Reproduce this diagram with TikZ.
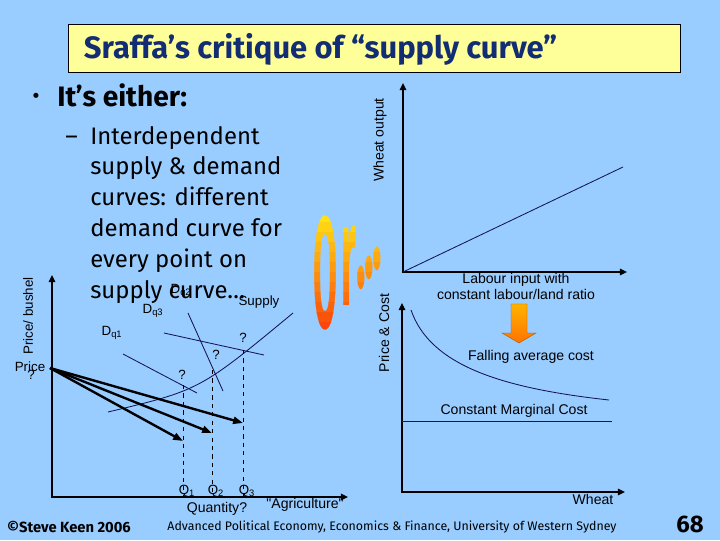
\documentclass[tikz,border=0pt]{standalone}
\usepackage{fontspec}
\setmainfont{Fira Sans}
\newfontfamily\arialfont{Liberation Sans}
\usetikzlibrary{arrows.meta, positioning, calc}
\definecolor{slidebg}{RGB}{153,204,255}
\definecolor{titleyellow}{RGB}{255,255,153}
\definecolor{titleblue}{RGB}{18,45,115}
\definecolor{linenavy}{RGB}{20,20,85}
\definecolor{ortop}{RGB}{255,225,20}
\definecolor{orbottom}{RGB}{250,70,10}

\begin{document}
\begin{tikzpicture}[x=0.025cm, y=-0.025cm,
	axes/.style={line width=1.5pt, {Triangle[length=5pt, width=4.5pt]}-{Triangle[length=5pt, width=4.5pt]}},
	thinline/.style={draw=linenavy, line width=0.6pt},
	guide/.style={dashed, line width=0.6pt},
	pricearrow/.style={line width=1.7pt, -{Triangle[length=7pt, width=5pt]}},
	lbl/.style={font=\arialfont\fontsize{10}{12}\selectfont, inner sep=0pt},
	smalllbl/.style={font=\arialfont\fontsize{9.5}{11}\selectfont, inner sep=0pt},
	body/.style={font=\fontsize{17}{20}\selectfont, inner sep=0pt, anchor=base west},
	orletter/.style={inner sep=0pt, font=\bfseries\fontsize{26}{26}\selectfont}]
	
	% slide background
	\fill[slidebg] (0,0) rectangle (720,540);
	
	% title
	\node[draw, line width=0.8pt, fill=titleyellow, minimum width=15.3cm, minimum height=1.2cm, anchor=north west] (titlebox) at (68,24) {};
	\node[anchor=west, text=titleblue, font=\bfseries\fontsize{22}{24}\selectfont] (title) at (79,49) {Sraffa's critique of ``supply curve''};
	
	% bullet text
	\node[font=\bfseries\fontsize{20}{22}\selectfont, inner sep=0pt, anchor=base west] (either) at (57,106) {It's either:};
	\node[font=\fontsize{16}{16}\selectfont, inner sep=0pt] (dot) at (36,98) {•};
	\node[body] (dash) at (65,144) {--};
	\foreach \txt [count=\i] in {Interdependent, supply \& demand, curves: different, demand curve for, every point on, supply curve\ldots}
		\node[body] (line\i) at (90,{144+(\i-1)*30.8}) {\txt};
	
	% left graph: demand curves for every supply point
	\coordinate (lo) at (52,497);
	\coordinate (ltop) at (52,275);
	\coordinate (lright) at (348,497);
	\draw[axes] (ltop) -- (lo) -- (lright);
	\node[smalllbl, rotate=90] (pricebushel) at (28,316) {Price/ bushel};
	\node[smalllbl] (price) at (30,367) {Price};
	\node[smalllbl] (priceq) at (31,375) {?};
	
	\coordinate (i1) at (183,385);
	\coordinate (i2) at (212,370);
	\coordinate (i3) at (243,350);
	\draw[thinline] (108,412) .. controls (200,390) .. (293,313);
	\draw[thinline] (123,354) -- (197,393);
	\draw[thinline] (188,313) -- (223,391);
	\draw[thinline] (164,333) -- (264,355);
	\foreach \n in {1,2,3}
		\draw[guide] (i\n) -- (i\n |- lo);
	
	\coordinate (p) at (50,368);
	\coordinate (e1) at (183,441);
	\coordinate (e2) at (212,433);
	\coordinate (e3) at (243,423);
	\foreach \n in {1,2,3}
		\draw[pricearrow] (p) -- (e\n);
	
	\node[smalllbl] (q1mark) at (182,375) {?};
	\node[smalllbl] (q2mark) at (216,355) {?};
	\node[smalllbl] (q3mark) at (243,338) {?};
	\node[smalllbl] (dq1) at (112,333) {D\textsubscript{q1}};
	\node[smalllbl] (dq2) at (181,291) {D\textsubscript{q2}};
	\node[smalllbl] (dq3) at (153,311) {D\textsubscript{q3}};
	\node[smalllbl] (supply) at (259,302) {Supply};
	\node[smalllbl] (q1) at (187,491) {Q\textsubscript{1}};
	\node[smalllbl] (q2) at (216,491) {Q\textsubscript{2}};
	\node[smalllbl] (q3) at (247,491) {Q\textsubscript{3}};
	\node[lbl] (quantity) at (217,509) {Quantity?};
	\node[lbl] (agri) at (305,505) {"Agriculture"};
	
	% "Or..." in bands from yellow to red
	\foreach \k in {0,...,11} {
		\pgfmathsetmacro\mix{100-\k*100/11}
		\begin{scope}[text=ortop!\mix!orbottom]
			\clip (300,{212+\k*10}) rectangle (395,{222.5+\k*10});
			\node[orletter] (oletter\k) at (325,273) {\scalebox{0.95}[4.3]{O}};
			\node[orletter] (rletter\k) at (349,266) {\scalebox{1}[4]{r}};
			\node[orletter] (dota\k) at (361,278) {\scalebox{1.1}[3.6]{.}};
			\node[orletter] (dotb\k) at (369,268) {\scalebox{1.1}[3.6]{.}};
			\node[orletter] (dotc\k) at (377,259) {\scalebox{1.1}[3.6]{.}};
		\end{scope}
	}
	
	% right top graph: output against labour
	\coordinate (ro) at (403,272);
	\coordinate (rtop) at (403,83);
	\coordinate (rright) at (627,272);
	\draw[axes] (rtop) -- (ro) -- (rright);
	\draw[thinline] (ro) -- (623,167);
	\node[lbl, rotate=90] (wheatout) at (380,140) {Wheat output};
	\node[lbl, align=center, font=\arialfont\fontsize{10}{11.4}\selectfont] (labour) at (516,286) {Labour input with\\constant labour/land ratio};
	\shade[top color=orange!60!yellow, bottom color=orange!90!red, draw=orange!70!black, line width=0.3pt]
		(511,304) -- (527,304) -- (527,333) -- (536,333) -- (519,343) -- (502,333) -- (511,333) -- cycle;
	
	% right bottom graph: costs
	\coordinate (bo) at (402,492);
	\coordinate (btop) at (402,303);
	\coordinate (bright) at (625,492);
	\draw[axes] (btop) -- (bo) -- (bright);
	\draw[thinline] (411,310) .. controls (430,365) and (500,388) .. (609,400);
	\draw[thinline] (bo |- 0,421) -- (612,421);
	\node[lbl, rotate=90] (pricecost) at (384,333) {Price \& Cost};
	\node[lbl] (avgcost) at (531,357) {Falling average cost};
	\node[lbl] (mcost) at (514,411) {Constant Marginal Cost};
	\node[lbl] (wheat) at (593,499) {Wheat};
	
	% footer
	\node[font=\bfseries\fontsize{10.5}{12}\selectfont] (keen) at (69,527) {©Steve Keen 2006};
	\node[font=\fontsize{8.8}{10}\selectfont] (uws) at (392,527) {Advanced Political Economy, Economics \& Finance, University of Western Sydney};
	\node[font=\bfseries\fontsize{17}{20}\selectfont] (page) at (690,524) {68};
\end{tikzpicture}
\end{document}
